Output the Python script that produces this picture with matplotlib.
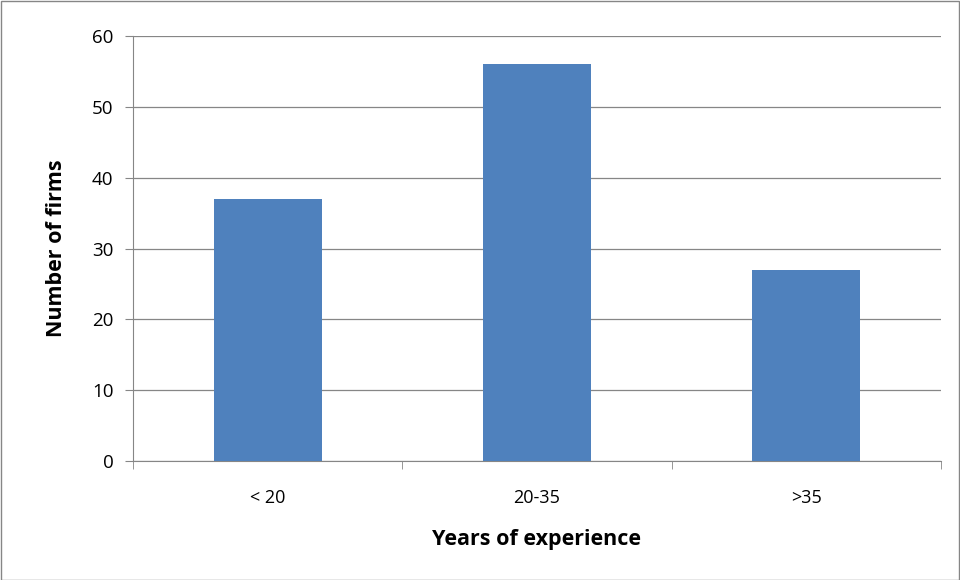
import matplotlib
matplotlib.use("Agg")
import matplotlib.pyplot as plt
from matplotlib.patches import Rectangle

categories = ["< 20", "20-35", ">35"]
values = [37, 56, 27]
yticks = [0, 10, 20, 30, 40, 50, 60]

plt.rcParams['font.family'] = ['Open Sans', 'DejaVu Sans']

fig = plt.figure(figsize=(9.6, 5.8), dpi=100)
ax = fig.add_axes([133/960, 1-461/580, (941-133)/960, (461-36)/580])

x = list(range(len(categories)))
ax.bar(x, values, width=0.4, color="#4F81BD", zorder=3)
ax.set_xlim(-0.5, len(categories) - 0.5)
ax.set_ylim(0, 60)
ax.set_yticks(yticks)
ax.set_yticklabels([str(v) for v in yticks], fontsize=13.5)
ax.grid(axis='y', color="#868686", linewidth=0.9, zorder=0)

ax.set_xticks(x)
ax.set_xticklabels(categories, fontsize=13)
ax.set_xticks([i - 0.5 for i in range(len(categories) + 1)], minor=True)
ax.tick_params(axis='x', which='major', length=0, pad=20)
ax.tick_params(axis='x', which='minor', length=6, color="#868686", direction='out')
ax.tick_params(axis='y', length=6, color="#868686", direction='out', pad=8)

for s in ['top', 'right']:
    ax.spines[s].set_visible(False)
for s in ['left', 'bottom']:
    ax.spines[s].set_color("#868686")

ax.set_xlabel("Years of experience", fontsize=15.5, fontweight='bold', labelpad=16)
ax.set_ylabel("Number of firms", fontsize=15.5, fontweight='bold', labelpad=18)

fig.patches.append(Rectangle((0.5/960, 0.5/580), 1 - 1.5/960, 1 - 1.5/580,
                             transform=fig.transFigure, fill=False,
                             edgecolor="#868686", linewidth=1))

fig.savefig("out.png", dpi=100)
